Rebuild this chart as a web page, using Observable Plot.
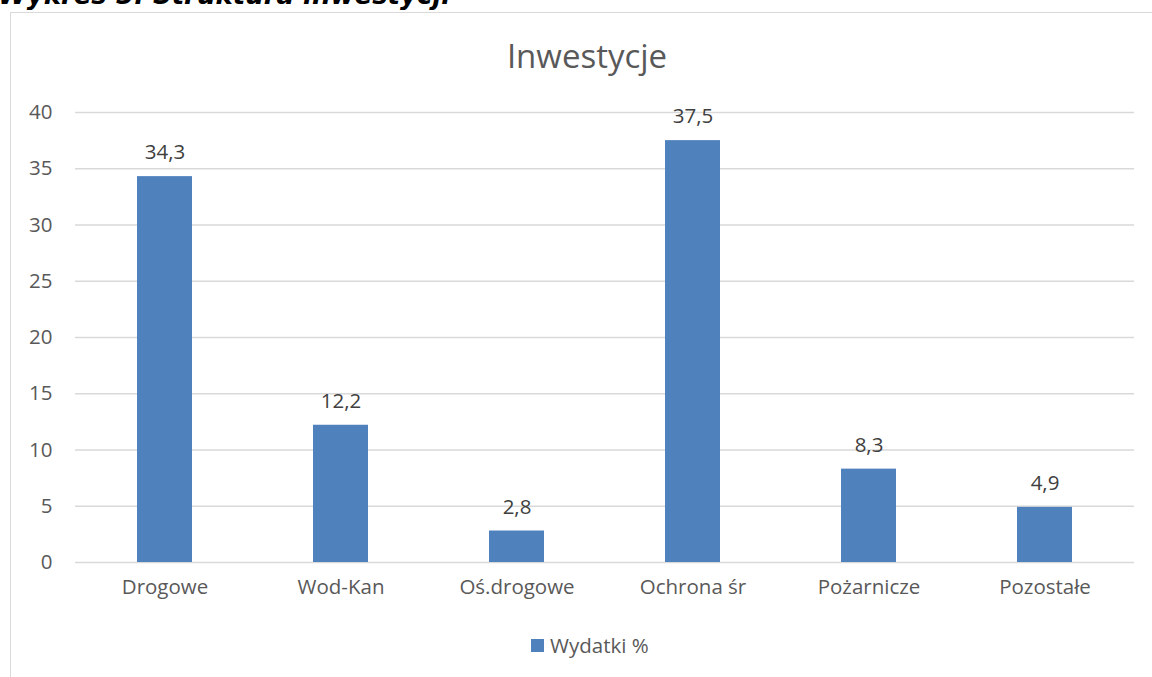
<!DOCTYPE html>
<html>
<head>
<meta charset="utf-8">
<script src="https://cdn.jsdelivr.net/npm/d3@7"></script>
<script src="https://cdn.jsdelivr.net/npm/@observablehq/plot@0.6"></script>
<style>
  html, body { margin: 0; padding: 0; background: #fff; overflow: hidden; }
  #wrap { position: relative; width: 1152px; height: 677px; overflow: hidden; font-family: "Open Sans", sans-serif; color: #595959; }
  #heading { position: absolute; left: -2px; top: -20px; font-family: "DejaVu Sans", sans-serif; font-weight: bold; font-style: oblique; font-size: 26px; color: #000; white-space: nowrap; }
  #frame { position: absolute; left: 10px; top: 12px; width: 1200px; height: 700px; border-left: 1.5px solid #d9d9d9; border-top: 1.5px solid #d9d9d9; }
  #chart { position: absolute; left: 0; top: 0; }
  #title { position: absolute; left: 387px; width: 400px; text-align: center; top: 33px; font-size: 33px; color: #595959; }
  #legend { position: absolute; left: 531px; top: 631px; font-size: 20.5px; color: #595959; display: flex; align-items: center; white-space: nowrap; }
  #legend .sw { width: 13px; height: 13px; background: #4f81bd; margin-right: 6px; }
</style>
</head>
<body>
<div id="wrap">
  <div id="frame"></div>
  <div id="heading">Wykres 5. Struktura inwestycji</div>
  <div id="chart"></div>
  <div id="title">Inwestycje</div>
  <div id="legend"><div class="sw"></div><span id="legendLabel"></span></div>
</div>
<script>
const categories = ["Drogowe", "Wod-Kan", "Oś.drogowe", "Ochrona śr", "Pożarnicze", "Pozostałe"];
const values = [34.3, 12.2, 2.8, 37.5, 8.3, 4.9];
const yTicks = [0, 5, 10, 15, 20, 25, 30, 35, 40];
const seriesName = "Wydatki %";

const data = categories.map((c, i) => ({category: c, value: values[i]}));
const fmt = v => String(v).replace(".", ",");

document.getElementById("legendLabel").textContent = seriesName;

const chart = Plot.plot({
  width: 1152,
  height: 677,
  marginLeft: 75,
  marginRight: 18,
  marginTop: 112,
  marginBottom: 115,
  style: { fontFamily: "Open Sans, sans-serif", fontSize: "20.5px", color: "#595959", background: "transparent" },
  x: { domain: categories, paddingInner: 0.69, paddingOuter: 0.345, label: null },
  y: { domain: [0, 40], label: null },
  marks: [
    Plot.gridY(yTicks, { stroke: "#d9d9d9", strokeOpacity: 1, strokeWidth: 1.5 }),
    Plot.axisY(yTicks, { tickSize: 0, tickPadding: 23, tickFormat: d => d, fontSize: 20.5, fill: "#595959", label: null }),
    Plot.axisX({ tickSize: 0, tickPadding: 17, fontSize: 20.5, fill: "#595959", label: null }),
    Plot.barY(data, { x: "category", y: "value", fill: "#4f81bd" }),
    Plot.text(data, { x: "category", y: "value", text: d => fmt(d.value), dy: -24, fontSize: 20.5, fill: "#404040" })
  ]
});
document.getElementById("chart").appendChild(chart);
</script>
</body>
</html>
